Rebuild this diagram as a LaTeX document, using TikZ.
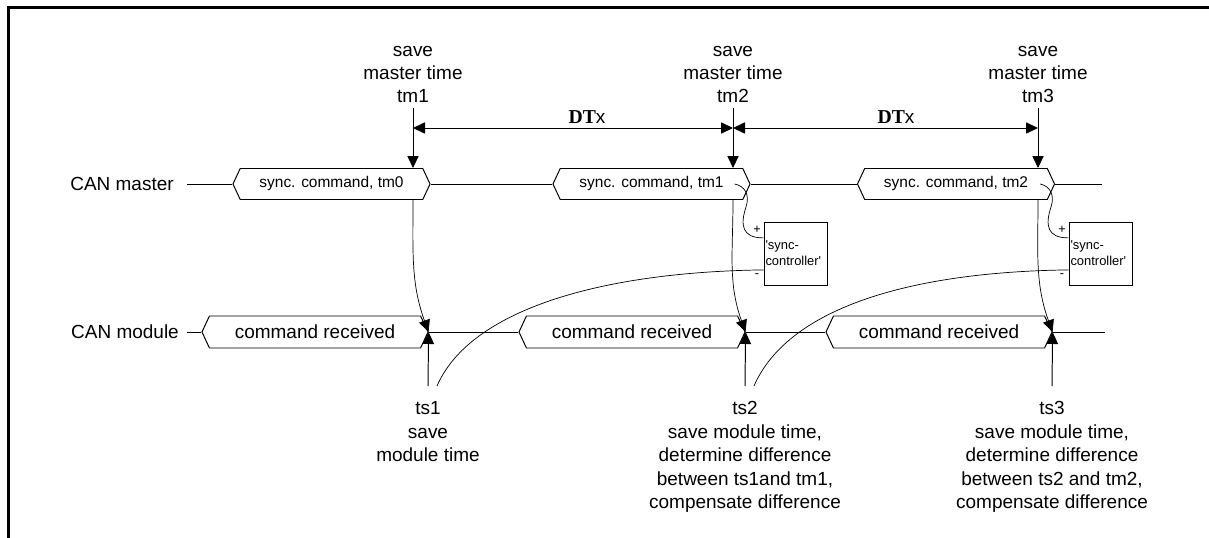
\documentclass[tikz,border=0pt]{standalone}
\usepackage{fontspec}
\setmainfont{Liberation Sans}
\newfontfamily\dtfont{Liberation Serif}
\usetikzlibrary{arrows.meta,positioning,shapes.symbols,calc}

\newcommand{\dtlabel}{{\dtfont\bfseries\fontsize{14}{16}\selectfont DT}{\normalfont\fontsize{13.5}{16}\selectfont x}}

\begin{document}
\begin{tikzpicture}[x=0.025cm,y=-0.025cm,line width=0.7pt,
    >={Triangle[length=0.3cm,width=0.28cm]},
    every node/.style={inner sep=0pt},
    lbl/.style={align=center,font=\fontsize{13.5}{16.4}\selectfont},
    cmdm/.style={shape=signal,signal to=west and east,signal pointer angle=130,
      draw,fill=white,minimum width=4.925cm,minimum height=0.775cm,
      font=\fontsize{11}{13}\selectfont},
    cmds/.style={cmdm,minimum width=5.65cm,minimum height=0.8cm,
      font=\fontsize{13.5}{16}\selectfont},
    ctrl/.style={draw,minimum width=1.575cm,minimum height=1.575cm,
      text width=1.5cm,align=left,font=\fontsize{9.2}{11.3}\selectfont},
    sgn/.style={font=\fontsize{9}{10}\selectfont},
    wire/.style={line width=0.5pt}]

  \useasboundingbox (0,0) rectangle (1209,538);
  % frame
  \draw[line width=2.1pt] (1209,7.5) -- (8.5,7.5) -- (8.5,538);

  % time marks
  \coordinate (tm1) at (413,108);
  \coordinate (tm2) at (733,108);
  \coordinate (tm3) at (1038,108);
  \coordinate (ts1) at (428,386);
  \coordinate (ts2) at (745,386);
  \coordinate (ts3) at (1052,386);

  \node[lbl,above=0.12cm of tm1] (savem1) {save\\master time\\tm1};
  \node[lbl,above=0.12cm of tm2] (savem2) {save\\master time\\tm2};
  \node[lbl,above=0.12cm of tm3] (savem3) {save\\master time\\tm3};

  % bus lines
  \node[lbl] (cmaster) at (122,184) {CAN master};
  \node[lbl] (cmodule) at (125,332) {CAN module};

  \node[cmdm] (mh1) at (331.5,184) {sync. command, tm0};
  \node[cmdm] (mh2) at (651.5,184) {sync. command, tm1};
  \node[cmdm] (mh3) at (956,184) {sync. command, tm2};
  \coordinate (mend) at (1102,184);

  \node[cmds] (md1) at (315,332) {command received};
  \node[cmds] (md2) at (632,332) {command received};
  \node[cmds] (md3) at (939,332) {command received};
  \coordinate (dend) at (1105,332);

  \draw ([xshift=0.32cm]cmaster.east) -- (mh1.west)
        (mh1.east) -- (mh2.west) (mh2.east) -- (mh3.west) (mh3.east) -- (mend);
  \draw ([xshift=0.18cm]cmodule.east) -- (md1.west)
        (md1.east) -- (md2.west) (md2.east) -- (md3.west) (md3.east) -- (dend);

  % DTx
  \coordinate (dt1) at ($(tm1)+(0,20)$);
  \coordinate (dt2) at ($(tm2)+(0,20)$);
  \coordinate (dt3) at ($(tm3)+(0,20)$);
  \draw[<->] (dt1) -- (dt2);
  \draw[<->] (dt2) -- (dt3);
  \node (dtx1) at (587,117) {\dtlabel};
  \node (dtx2) at (896,117) {\dtlabel};

  \path[->] (tm1) edge (tm1 |- mh1.north)
            (tm2) edge (tm2 |- mh2.north)
            (tm3) edge (tm3 |- mh3.north)
            (ts1) edge (md1.east)
            (ts2) edge (md2.east)
            (ts3) edge (md3.east);

  \path[->,wire] (tm1 |- mh1.south) edge[out=-90,in=110] (md1.east)
                 (tm2 |- mh2.south) edge[out=-90,in=110] (md2.east)
                 (tm3 |- mh3.south) edge[out=-90,in=110] (md3.east);

  % sync controllers
  \node[ctrl] (sc1) at (795.5,253.5) {\textquotesingle sync-\\controller\textquotesingle};
  \node[ctrl] (sc2) at (1100.5,253.5) {\textquotesingle sync-\\controller\textquotesingle};
  \node[sgn] at (757,230) {+};
  \node[sgn] at (757,276) {-};
  \node[sgn] at (1062,230) {+};
  \node[sgn] at (1062,276) {-};

  \draw[wire] ($(mh2.east)+(-16,0)$) .. controls (745,186) and (750,195) .. (746,207)
        .. controls (740,225) and (742,238) .. ([yshift=0.39cm]sc1.west);
  \draw[wire] ($(mh3.east)+(-15,0)$) .. controls (1050,186) and (1055,195) .. (1051,207)
        .. controls (1045,225) and (1047,238) .. ([yshift=0.39cm]sc2.west);
  \draw[wire] ([yshift=-0.41cm]sc1.west) .. controls (600,272) and (470,310) .. ($(ts1)+(9,0)$);
  \draw[wire] ([yshift=-0.41cm]sc2.west) .. controls (905,272) and (787,310) .. ($(ts2)+(9,0)$);

  % module time labels
  \node[lbl,below=0.38cm of ts1,font=\fontsize{13.5}{16.7}\selectfont] (saves1) {ts1\\save\\module time};
  \node[lbl,below=0.38cm of ts2,font=\fontsize{13.5}{16.7}\selectfont] (saves2)
    {ts2\\save module time,\\determine difference\\between ts1and tm1,\\compensate difference};
  \node[lbl,below=0.38cm of ts3,font=\fontsize{13.5}{16.7}\selectfont] (saves3)
    {ts3\\save module time,\\determine difference\\between ts2 and tm2,\\compensate difference};
\end{tikzpicture}
\end{document}
